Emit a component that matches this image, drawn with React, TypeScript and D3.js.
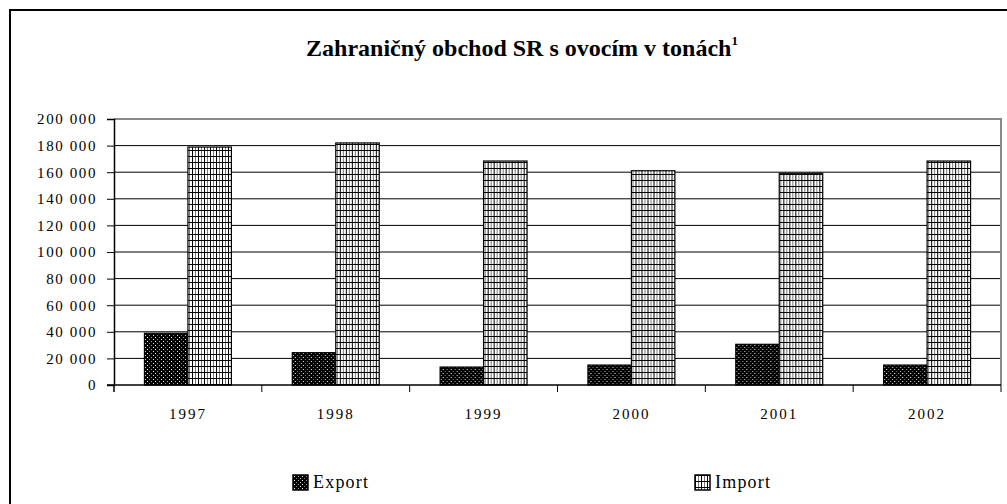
import { useEffect, useRef } from "react";
import * as d3 from "d3";

const years = ["1997", "1998", "1999", "2000", "2001", "2002"];
const exportValues = [38900, 24300, 13500, 15000, 30600, 15000];
const importValues = [178900, 182000, 168400, 161100, 159200, 168400];
const seriesNames = ["Export", "Import"];
const yTicks = [0, 20000, 40000, 60000, 80000, 100000, 120000, 140000, 160000, 180000, 200000];

const FONT = "Liberation Serif, Times New Roman, Times, serif";

function fmt(v: number) {
  // "200 000" style thousands separator
  return d3.format(",")(v).replace(/,/g, " ");
}

function renderChart(element: SVGSVGElement) {
  const width = 1007,
    height = 504;
  const plot = { left: 114, right: 1001, top: 119, bottom: 385 };

  const svg = d3.select(element);
  svg.selectAll("*").remove();

  // fill patterns
  const defs = svg.append("defs");
  const dots = defs
    .append("pattern")
    .attr("id", "pat-export")
    .attr("patternUnits", "userSpaceOnUse")
    .attr("width", 8)
    .attr("height", 4);
  dots.append("rect").attr("width", 8).attr("height", 4).attr("fill", "#000");
  dots.append("rect").attr("x", 1).attr("y", 1).attr("width", 1).attr("height", 1).attr("fill", "#fff");
  dots.append("rect").attr("x", 5).attr("y", 1).attr("width", 1).attr("height", 1).attr("fill", "#999");
  dots.append("rect").attr("x", 3).attr("y", 3).attr("width", 1).attr("height", 1).attr("fill", "#777");
  dots.append("rect").attr("x", 7).attr("y", 3).attr("width", 1).attr("height", 1).attr("fill", "#ddd");

  const grid = defs
    .append("pattern")
    .attr("id", "pat-import")
    .attr("patternUnits", "userSpaceOnUse")
    .attr("width", 6)
    .attr("height", 6);
  grid.append("rect").attr("width", 6).attr("height", 6).attr("fill", "#fff");
  grid.append("rect").attr("x", 0).attr("y", 0).attr("width", 1).attr("height", 6).attr("fill", "#000");
  grid.append("rect").attr("x", 3).attr("y", 0).attr("width", 1).attr("height", 6).attr("fill", "#777");
  grid.append("rect").attr("x", 0).attr("y", 0).attr("width", 6).attr("height", 1).attr("fill", "#000");

  const fills: Record<string, string> = {
    Export: "url(#pat-export)",
    Import: "url(#pat-import)",
  };

  svg.append("rect").attr("width", width).attr("height", height).attr("fill", "#fff");

  // outer chart frame (runs off the right and bottom edge)
  svg
    .append("rect")
    .attr("x", 10)
    .attr("y", 10)
    .attr("width", 1020)
    .attr("height", 520)
    .attr("fill", "none")
    .attr("stroke", "#000")
    .attr("stroke-width", 2);

  // title
  const title = svg
    .append("text")
    .attr("x", 522)
    .attr("y", 56)
    .attr("text-anchor", "middle")
    .style("font-family", FONT)
    .attr("font-weight", "bold")
    .attr("font-size", 24)
    .attr("fill", "#000");
  title.append("tspan").text("Zahraničný obchod SR s ovocím v tonách");
  title.append("tspan").attr("font-size", 13).attr("dy", -11).text("1");

  const x0 = d3.scaleBand().domain(years).range([plot.left, plot.right]).padding(0);
  const x1 = d3
    .scaleBand()
    .domain(seriesNames)
    .range([0, x0.bandwidth()])
    .paddingInner(0)
    .paddingOuter(0.7);
  const y = d3.scaleLinear().domain([0, 200000]).range([plot.bottom, plot.top]);

  // gridlines
  svg
    .append("g")
    .selectAll("line")
    .data(yTicks.filter((t) => t > 0 && t < 200000))
    .join("line")
    .attr("x1", plot.left)
    .attr("x2", plot.right)
    .attr("y1", (d) => y(d))
    .attr("y2", (d) => y(d))
    .attr("stroke", "#000")
    .attr("stroke-width", 1);

  // plot area border (top / right)
  svg
    .append("path")
    .attr("d", `M${plot.left},${plot.top}H${plot.right}V${plot.bottom}`)
    .attr("fill", "none")
    .attr("stroke", "#8a8a8a")
    .attr("stroke-width", 2);

  // bars
  const rows = years.map((yr, i) => ({
    year: yr,
    values: [
      { key: "Export", value: exportValues[i] },
      { key: "Import", value: importValues[i] },
    ],
  }));

  svg
    .append("g")
    .selectAll("g")
    .data(rows)
    .join("g")
    .attr("transform", (d) => `translate(${x0(d.year)},0)`)
    .selectAll("rect")
    .data((d) => d.values)
    .join("rect")
    .attr("x", (d) => x1(d.key)!)
    .attr("y", (d) => y(d.value))
    .attr("width", x1.bandwidth())
    .attr("height", (d) => y(0) - y(d.value))
    .attr("fill", (d) => fills[d.key])
    .attr("stroke", "#000")
    .attr("stroke-width", 1.2);

  // y axis
  const yAxis = svg
    .append("g")
    .attr("transform", `translate(${plot.left},0)`)
    .call(
      d3
        .axisLeft(y)
        .tickValues(yTicks)
        .tickSize(7)
        .tickPadding(10)
        .tickFormat((d) => fmt(d as number))
    );
  yAxis.select(".domain").attr("stroke", "#000").attr("stroke-width", 1.5);
  yAxis.selectAll(".tick line").attr("stroke", "#000");
  yAxis
    .selectAll("text")
    .style("font-family", FONT)
    .attr("font-size", 15)
    .attr("letter-spacing", 1.6)
    .attr("fill", "#000");

  // x axis: ticks at the category boundaries
  const xAxis = svg.append("g").attr("transform", `translate(0,${plot.bottom})`);
  xAxis
    .append("line")
    .attr("x1", plot.left - 7)
    .attr("x2", plot.right)
    .attr("stroke", "#000")
    .attr("stroke-width", 1.5);
  const bounds = years.map((yr) => x0(yr)!).concat([plot.right]);
  xAxis
    .selectAll("line.tick")
    .data(bounds)
    .join("line")
    .attr("class", "tick")
    .attr("x1", (d) => d)
    .attr("x2", (d) => d)
    .attr("y1", 0)
    .attr("y2", 7)
    .attr("stroke", "#000")
    .attr("stroke-width", (d, i) => (i === 0 ? 1.5 : 1));
  xAxis
    .selectAll("text")
    .data(years)
    .join("text")
    .attr("x", (d) => x0(d)! + x0.bandwidth() / 2)
    .attr("y", 34)
    .attr("text-anchor", "middle")
    .style("font-family", FONT)
    .attr("font-size", 15)
    .attr("letter-spacing", 2)
    .attr("fill", "#000")
    .text((d) => d);

  // legend
  const legendX = [293, 695];
  const legend = svg
    .append("g")
    .selectAll("g")
    .data(seriesNames)
    .join("g")
    .attr("transform", (d, i) => `translate(${legendX[i]},475)`);
  legend
    .append("rect")
    .attr("width", 15)
    .attr("height", 15)
    .attr("fill", (d) => fills[d])
    .attr("stroke", "#000")
    .attr("stroke-width", 1.5);
  legend
    .append("text")
    .attr("x", 20)
    .attr("y", 13)
    .style("font-family", FONT)
    .attr("font-size", 18)
    .attr("letter-spacing", 1.2)
    .attr("fill", "#000")
    .text((d) => d);
}

export default function App() {
  const ref = useRef<SVGSVGElement>(null);
  useEffect(() => {
    if (ref.current) renderChart(ref.current);
  }, []);
  return (
    <svg
      ref={ref}
      width={1007}
      height={504}
      style={{ position: "absolute", left: 0, top: 0, display: "block" }}
    />
  );
}
